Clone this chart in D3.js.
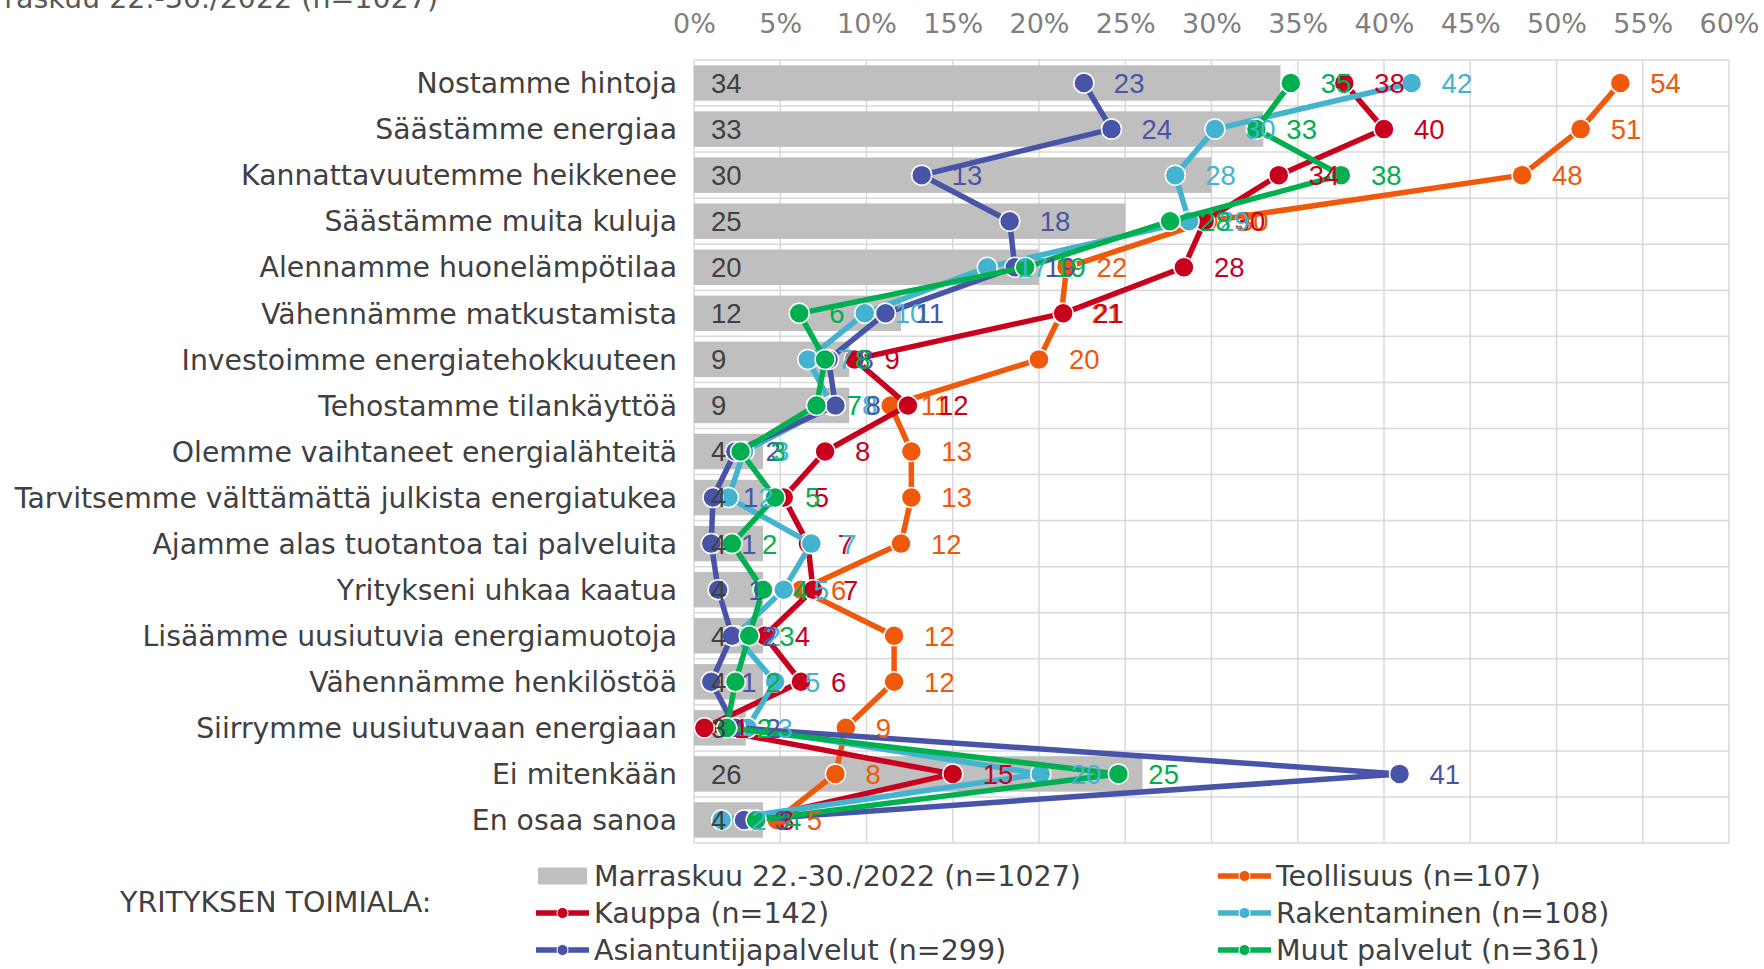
<!DOCTYPE html>
<html>
<head>
<meta charset="utf-8">
<script src="https://cdn.jsdelivr.net/npm/d3@7"></script>
<style>
  body { margin: 0; background: #ffffff; }
</style>
</head>
<body>
<div id="chart"></div>
<script>
// categories (top to bottom)
var categories = [
    "Nostamme hintoja",
    "Säästämme energiaa",
    "Kannattavuutemme heikkenee",
    "Säästämme muita kuluja",
    "Alennamme huonelämpötilaa",
    "Vähennämme matkustamista",
    "Investoimme energiatehokkuuteen",
    "Tehostamme tilankäyttöä",
    "Olemme vaihtaneet energialähteitä",
    "Tarvitsemme välttämättä julkista energiatukea",
    "Ajamme alas tuotantoa tai palveluita",
    "Yritykseni uhkaa kaatua",
    "Lisäämme uusiutuvia energiamuotoja",
    "Vähennämme henkilöstöä",
    "Siirrymme uusiutuvaan energiaan",
    "Ei mitenkään",
    "En osaa sanoa"
];

// all respondents (bars)
var totalValues = [34, 33, 30, 25, 20, 12, 9, 9, 4, 4, 4, 4, 4, 4, 3, 26, 4];

// industry lines
var teollisuus = [53.7, 51.4, 48.0, 29.8, 21.6, 21.3, 20.0, 11.4, 12.6, 12.6, 12.0, 6.2, 11.6, 11.6, 8.8, 8.2, 4.8];
var kauppa = [37.7, 40.0, 33.9, 29.6, 28.4, 21.4, 9.3, 12.4, 7.6, 5.2, 6.6, 6.9, 4.1, 6.2, 0.6, 15.0, 3.2];
var rakentaminen = [41.6, 30.2, 27.9, 28.7, 17.0, 9.9, 6.6, 8.0, 2.9, 2.0, 6.8, 5.2, 2.4, 4.7, 3.1, 20.1, 1.6];
var asiantuntija = [22.6, 24.2, 13.2, 18.3, 18.6, 11.1, 7.8, 8.2, 2.4, 1.1, 1.0, 1.4, 2.2, 1.0, 2.4, 40.9, 2.9];
var muut = [34.6, 32.6, 37.5, 27.6, 19.2, 6.1, 7.6, 7.1, 2.7, 4.7, 2.2, 4.0, 3.2, 2.4, 1.9, 24.6, 3.6];

var tickValues = [0, 5, 10, 15, 20, 25, 30, 35, 40, 45, 50, 55, 60];

var barName = "Marraskuu 22.-30./2022 (n=1027)";
var seriesNames = ["Teollisuus (n=107)", "Kauppa (n=142)", "Rakentaminen (n=108)", "Asiantuntijapalvelut (n=299)", "Muut palvelut (n=361)"];
var seriesValues = [teollisuus, kauppa, rakentaminen, asiantuntija, muut];
var seriesColors = ["#f0580a", "#c8001e", "#43b3d0", "#4854a8", "#00b050"];

var drawGraph = function(){

    var width = 1764;
    var height = 969;
    var textFont = "DejaVu Sans, Verdana, sans-serif";
    var numFont = "Liberation Sans, Arial, sans-serif";

    var svg = d3.select('#chart')
        .append('svg')
        .attr("width", width)
        .attr("height", height)
        .style("background-color", "#ffffff");

    // plot area
    var left = 694, right = 1729, top = 60, bottom = 843;

    var x = d3.scaleLinear()
        .domain([0, 60])
        .range([left, right]);

    var y = d3.scaleBand()
        .domain(categories)
        .range([top, bottom])
        .padding(0);

    // cut-off title in the top left corner
    svg.append("text")
        .attr("x", 438)
        .attr("y", 8)
        .attr("text-anchor", "end")
        .style("font-family", textFont)
        .style("font-size", "28.5px")
        .style("fill", "#595959")
        .text(barName);

    // grid
    var grid = svg.append("g");
    grid.selectAll("line.v")
        .data(tickValues)
        .enter().append("line")
        .attr("x1", function(d){return x(d);})
        .attr("x2", function(d){return x(d);})
        .attr("y1", top)
        .attr("y2", bottom)
        .style("stroke", "#d9d9d9")
        .style("stroke-width", 1.5);

    var rowEdges = categories.map(function(c){return y(c);}).concat([bottom]);
    grid.selectAll("line.h")
        .data(rowEdges)
        .enter().append("line")
        .attr("x1", left)
        .attr("x2", right)
        .attr("y1", function(d){return d;})
        .attr("y2", function(d){return d;})
        .style("stroke", "#d9d9d9")
        .style("stroke-width", 1.5);

    // top axis, labels only
    var axis = svg.append("g")
        .attr("transform", "translate(0," + 33 + ")")
        .call(d3.axisTop(x).tickValues(tickValues).tickSize(0).tickPadding(0).tickFormat(function(d){return d + "%";}));
    axis.select(".domain").remove();
    axis.selectAll("text")
        .attr("dy", 0)
        .style("font-family", textFont)
        .style("font-size", "27px")
        .style("fill", "#7f7f7f");

    // category labels
    var yAxis = svg.append("g")
        .attr("transform", "translate(" + (left - 17) + ",0)")
        .call(d3.axisLeft(y).tickSize(0).tickPadding(0));
    yAxis.select(".domain").remove();
    yAxis.selectAll("text")
        .attr("dy", "0.36em")
        .style("font-family", textFont)
        .style("font-size", "28.3px")
        .style("fill", "#404040");

    // bars
    var barH = y.bandwidth() * 0.77;
    svg.append("g").selectAll("rect")
        .data(totalValues)
        .enter().append("rect")
        .attr("x", x(0))
        .attr("y", function(d, i){return y(categories[i]) + (y.bandwidth() - barH) / 2;})
        .attr("width", function(d){return x(d) - x(0);})
        .attr("height", barH)
        .style("fill", "#bfbfbf");

    // lines + markers
    var mid = function(i){return y(categories[i]) + y.bandwidth() / 2;};
    var line = d3.line()
        .x(function(d){return x(d);})
        .y(function(d, i){return mid(i);});

    seriesValues.forEach(function(vals, s){
        var g = svg.append("g");
        g.append("path")
            .datum(vals)
            .attr("d", line)
            .style("fill", "none")
            .style("stroke", seriesColors[s])
            .style("stroke-width", 5.5)
            .style("stroke-linejoin", "round");
        g.selectAll("circle")
            .data(vals)
            .enter().append("circle")
            .attr("cx", function(d){return x(d);})
            .attr("cy", function(d, i){return mid(i);})
            .attr("r", 10)
            .style("fill", seriesColors[s])
            .style("stroke", "#ffffff")
            .style("stroke-width", 1.5);
    });

    // bar labels
    svg.append("g").selectAll("text")
        .data(totalValues)
        .enter().append("text")
        .attr("x", x(0) + 17)
        .attr("y", function(d, i){return mid(i);})
        .attr("dy", "0.36em")
        .style("font-family", numFont)
        .style("font-size", "27.5px")
        .style("fill", "#404040")
        .text(function(d){return d;});

    // series labels
    seriesValues.forEach(function(vals, s){
        svg.append("g").selectAll("text")
            .data(vals)
            .enter().append("text")
            .attr("x", function(d){return x(d) + 30;})
            .attr("y", function(d, i){return mid(i);})
            .attr("dy", "0.36em")
            .style("font-family", numFont)
            .style("font-size", "27.5px")
            .style("fill", seriesColors[s])
            .text(function(d){return Math.round(d);});
    });

    // legend
    var legend = svg.append("g");
    legend.append("text")
        .attr("x", 120)
        .attr("y", 902)
        .attr("dy", "0.36em")
        .style("font-family", textFont)
        .style("font-size", "28.5px")
        .style("fill", "#404040")
        .text("YRITYKSEN TOIMIALA:");

    var legendItems = [{name: barName, color: "#bfbfbf", bar: true}].concat(
        seriesNames.map(function(n, i){return {name: n, color: seriesColors[i], bar: false};}));
    var colX = [536, 1218];
    var rowY = [876, 913, 950];

    legendItems.forEach(function(item, i){
        var lx = colX[i % 2];
        var ly = rowY[Math.floor(i / 2)];
        var g = legend.append("g").attr("transform", "translate(" + lx + "," + ly + ")");
        if (item.bar) {
            g.append("rect")
                .attr("x", 2).attr("y", -8.5)
                .attr("width", 49).attr("height", 17)
                .style("fill", item.color);
        } else {
            g.append("line")
                .attr("x1", 0).attr("x2", 53)
                .attr("y1", 0).attr("y2", 0)
                .style("stroke", item.color)
                .style("stroke-width", 5.5);
            g.append("circle")
                .attr("cx", 26.5).attr("cy", 0).attr("r", 5.5)
                .style("fill", item.color)
                .style("stroke", "#ffffff")
                .style("stroke-width", 1);
        }
        g.append("text")
            .attr("x", 58)
            .attr("y", 0)
            .attr("dy", "0.36em")
            .style("font-family", textFont)
            .style("font-size", "28.5px")
            .style("fill", "#404040")
            .text(item.name);
    });
}

drawGraph();
</script>
</body>
</html>
